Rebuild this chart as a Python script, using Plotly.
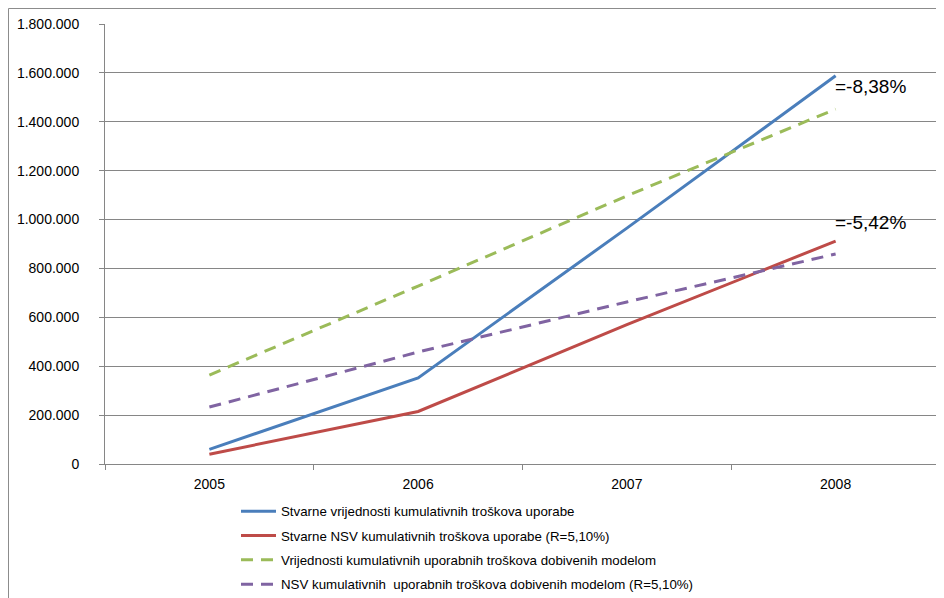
import plotly.graph_objects as go

# godine (kategorije na x osi)
years = ["2005", "2006", "2007", "2008"]

# vrijednosti ocitane sa slike
stvarne = [60000, 352000, 965000, 1588000]
stvarne_nsv = [40000, 215000, 570000, 912000]
model = [364000, 728000, 1097000, 1452000]
model_nsv = [233000, 458000, 663000, 859000]

names = [
    "Stvarne vrijednosti kumulativnih troškova uporabe",
    "Stvarne NSV kumulativnih troškova uporabe (R=5,10%)",
    "Vrijednosti kumulativnih uporabnih troškova dobivenih modelom",
    "NSV kumulativnih  uporabnih troškova dobivenih modelom (R=5,10%)",
]

labels = ["=-8,38%", "=-5,42%"]
label_y = [1543000, 986000]

W, H = 944, 598
# stranica ima 8px margine u pregledniku, pa je sve pomaknuto
L, R, T, B = 97, 12, 16, 142


def main() -> None:
    fig = go.Figure()

    series = [stvarne, stvarne_nsv, model, model_nsv]
    colors = ["#4A7EBB", "#BE4B48", "#9BBB59", "#8064A2"]
    dashes = ["solid", "solid", "12px,8px", "12px,8px"]

    for i, vals in enumerate(series):
        fig.add_trace(
            go.Scatter(
                x=years,
                y=vals,
                mode="lines",
                name=names[i],
                legendgroup=f"g{i}",
                line=dict(color=colors[i], width=3, dash=dashes[i]),
            )
        )

    # kategorija se zadaje indeksom (inace se "2008" cita kao broj)
    for txt, yv in zip(labels, label_y):
        fig.add_annotation(
            x=len(years) - 1, y=yv, text=txt, showarrow=False,
            xanchor="left", yanchor="middle", xshift=-3,
            font=dict(size=19, color="black"),
        )

    # okvir oko grafa (vidljiv samo lijevo i gore)
    pw, ph = W - L - R, H - T - B
    fig.add_shape(
        type="rect", xref="paper", yref="paper",
        x0=(0.5 - L) / pw, x1=(W + 20 - L) / pw,
        y0=-(H + 20 - T - ph) / ph, y1=1 + (T - 0.5) / ph,
        line=dict(color="#8c8c8c", width=1), layer="below",
    )

    fig.update_layout(
        width=W, height=H,
        margin=dict(l=L, r=R, t=T, b=B, autoexpand=False),
        paper_bgcolor="white", plot_bgcolor="white",
        separators=",.",
        font=dict(family="Liberation Sans, Arial", size=14, color="black"),
        showlegend=True,
        legend=dict(
            x=(236 - L - 8) / pw, xanchor="left",
            y=-0.073, yanchor="top",
            traceorder="grouped", tracegroupgap=4,
            font=dict(size=13.3), itemwidth=35,
        ),
        xaxis=dict(
            type="category", range=[-0.5, 3.5],
            showgrid=False, showline=True, linecolor="#868686", linewidth=1,
            ticks="outside", tickson="boundaries", ticklen=5, tickcolor="#868686",
            ticklabelstandoff=7, zeroline=False,
        ),
        yaxis=dict(
            range=[0, 1800000], dtick=200000, tickformat=",d",
            showgrid=True, gridcolor="#868686", gridwidth=1,
            showline=True, linecolor="#868686", linewidth=1,
            ticks="outside", ticklen=5, tickcolor="#868686",
            ticklabelstandoff=17, zeroline=False,
        ),
    )

    fig.write_html("out.html")


if __name__ == "__main__":
    main()
